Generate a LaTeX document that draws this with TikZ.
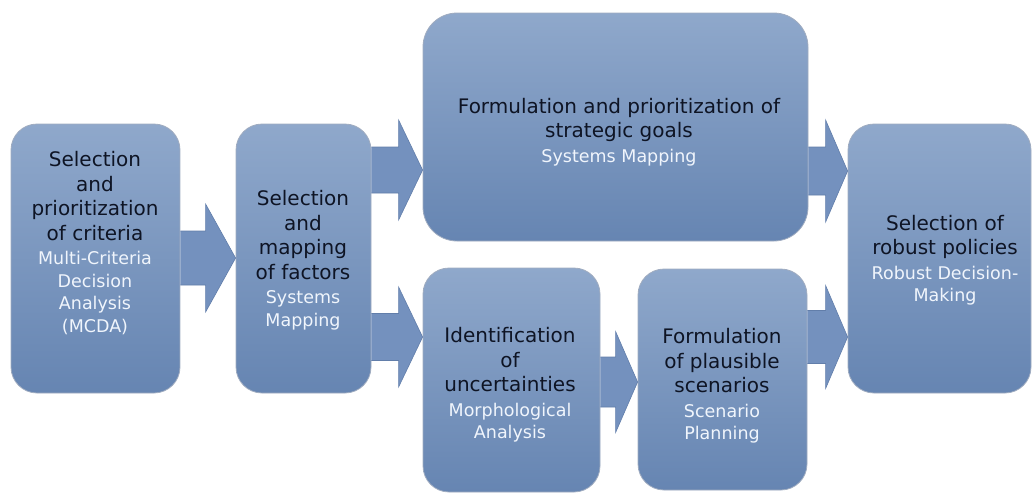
\documentclass[tikz,border=0pt]{standalone}
\usepackage{fontspec}
\setmainfont{DejaVu Sans}
\usetikzlibrary{calc}
\definecolor{boxtop}{RGB}{143,168,203}
\definecolor{boxbot}{RGB}{102,133,178}
\definecolor{boxedge}{RGB}{160,172,192}
\definecolor{arrfill}{RGB}{116,145,190}
\definecolor{arredge}{RGB}{98,126,170}
\definecolor{maintxt}{RGB}{14,20,36}
\definecolor{subtxt}{RGB}{240,245,252}
\newcommand\mainsz{\fontsize{20}{24.5}\selectfont}
\newcommand\subl[1]{{\fontsize{17.5}{22.5}\selectfont\color{subtxt}#1}}
% block arrow: from node, to node, tip y, shaft half width, head half width, head length
\newcommand\barrow[6]{%
  \coordinate (s) at (#1.east |- 0,#3);
  \coordinate (t) at (#2.west |- 0,#3);
  \fill[arrfill] ($(s)+(0,-#4)$) -- ($(t)+(-#6,-#4)$) -- ($(t)+(-#6,-#5)$) -- (t)
     -- ($(t)+(-#6,#5)$) -- ($(t)+(-#6,#4)$) -- ($(s)+(0,#4)$) -- cycle;
  \draw[barr] ($(s)+(0,-#4)$) -- ($(t)+(-#6,-#4)$) -- ($(t)+(-#6,-#5)$) -- (t)
     -- ($(t)+(-#6,#5)$) -- ($(t)+(-#6,#4)$) -- ($(s)+(0,#4)$);
}
\begin{document}
\begin{tikzpicture}[x=1pt,y=-1pt,
  box/.style={rounded corners=26pt, top color=boxtop, bottom color=boxbot,
              draw=boxedge, line width=0.8pt, inner sep=0pt},
  txt/.style={align=center, font=\mainsz, text=maintxt, inner sep=0pt},
  barr/.style={draw=arredge, line width=0.6pt, line join=miter}]
\useasboundingbox (0,0) rectangle (1033,493);

\node[box, minimum width=169pt, minimum height=269pt] (b1) at (95.5,258.5) {};
\node[box, minimum width=135pt, minimum height=269pt] (b2) at (303.5,258.5) {};
\node[box, rounded corners=34pt, minimum width=385pt, minimum height=228pt] (b3) at (615.5,127) {};
\node[box, minimum width=177pt, minimum height=224pt] (b4) at (511.5,380) {};
\node[box, minimum width=169pt, minimum height=221pt] (b5) at (722.5,379.5) {};
\node[box, minimum width=183pt, minimum height=269pt] (b6) at (939.5,258.5) {};

\barrow{b1}{b2}{258}{27}{54}{30}
\barrow{b2}{b3}{170}{23}{50}{24}
\barrow{b2}{b4}{337}{23.5}{50}{24}
\barrow{b3}{b6}{171}{24}{51}{22}
\barrow{b5}{b6}{337}{26.5}{51.5}{22}
\barrow{b4}{b5}{382}{25}{50.5}{22}

\node[txt] (t1) at (95,243) {Selection\\and\\prioritization\\of criteria\\\subl{Multi-Criteria}\\[-2pt]\subl{Decision}\\[-2pt]\subl{Analysis}\\[-2pt]\subl{(MCDA)}};
\node[txt] (t2) at (303,260) {Selection\\and\\mapping\\of factors\\\subl{Systems}\\[-2pt]\subl{Mapping}};
\node[txt] (t3) at (619,132) {Formulation and prioritization of\\strategic goals\\\subl{Systems Mapping}};
\node[txt] (t4) at (510,385) {Identification\\of\\uncertainties\\\subl{Morphological}\\[-2pt]\subl{Analysis}};
\node[txt] (t5) at (722,386) {Formulation\\of plausible\\scenarios\\\subl{Scenario}\\[-2pt]\subl{Planning}};
\node[txt] (t6) at (945,260) {Selection of\\robust policies\\\subl{Robust Decision-}\\[-2pt]\subl{Making}};
\end{tikzpicture}
\end{document}
